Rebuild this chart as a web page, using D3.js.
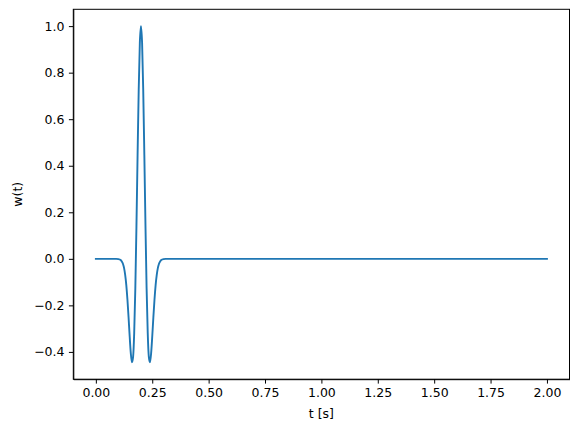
<!DOCTYPE html>
<html>
<head>
<meta charset="utf-8">
<script src="https://cdn.jsdelivr.net/npm/d3@7"></script>
<style>
    body { margin: 0; background: #fff; }
    svg text { font-family: "DejaVu Sans", sans-serif; }
    .tick text { font-size: 12.5px; fill: #000; }
    .tick line, .domain { stroke: #000; stroke-width: 1px; }
    .label { font-size: 12.5px; fill: #000; }
</style>
</head>
<body>
<svg id="chart"></svg>
<script>
// values (time in seconds, amplitude)
var tValues = [0, 0.09, 0.10, 0.11, 0.115, 0.12, 0.125, 0.13, 0.135, 0.14, 0.145, 0.15,
    0.155, 0.16, 0.165, 0.17, 0.175, 0.18, 0.185, 0.19, 0.195, 0.20,
    0.205, 0.21, 0.215, 0.22, 0.225, 0.23, 0.235, 0.24, 0.245, 0.25,
    0.255, 0.26, 0.265, 0.27, 0.275, 0.28, 0.285, 0.29, 0.30, 0.31, 2.0];
var wValues = [0, 0, -0.001, -0.005, -0.011, -0.021, -0.039, -0.069, -0.113, -0.175, -0.251, -0.334,
    -0.406, -0.445, -0.423, -0.319, -0.126, 0.142, 0.445, 0.727, 0.928, 1.0,
    0.928, 0.727, 0.445, 0.142, -0.126, -0.319, -0.423, -0.445, -0.406, -0.334,
    -0.251, -0.175, -0.113, -0.069, -0.039, -0.021, -0.011, -0.005, -0.001, 0, 0];
var xTicks = [0, 0.25, 0.5, 0.75, 1.0, 1.25, 1.5, 1.75, 2.0];
var yTicks = [-0.4, -0.2, 0.0, 0.2, 0.4, 0.6, 0.8, 1.0];

var margin = { top: 9.3, right: 8.5, bottom: 52.8, left: 73.3 };
var width = 578 - margin.left - margin.right;
var height = 432 - margin.top - margin.bottom;

var svg = d3.select('#chart')
    .attr('width', 578)
    .attr('height', 432)
    .append('g')
    .attr('transform', `translate(${margin.left}, ${margin.top})`);

var data = tValues.map((t, i) => ({ t: t, w: wValues[i] }));

// matplotlib style 5% padding around the data
var xMin = d3.min(tValues), xMax = d3.max(tValues);
var yMin = d3.min(wValues), yMax = d3.max(wValues);
var xPad = (xMax - xMin) * 0.05, yPad = (yMax - yMin) * 0.05;

var xScale = d3.scaleLinear()
    .range([0, width])
    .domain([xMin - xPad, xMax + xPad]);
var yScale = d3.scaleLinear()
    .range([height, 0])
    .domain([yMin - yPad, yMax + yPad]);

// X Axis
svg.append('g')
    .attr('transform', `translate(0, ${height})`)
    .call(d3.axisBottom(xScale).tickValues(xTicks).tickFormat(d3.format('.2f'))
        .tickSize(4.4).tickPadding(4.4).tickSizeOuter(0));

// Y Axis
svg.append('g')
    .call(d3.axisLeft(yScale).tickValues(yTicks).tickFormat(d => d3.format('.1f')(d).replace('-', '\u2212'))
        .tickSize(4.4).tickPadding(4.4).tickSizeOuter(0));

// frame
svg.append('rect')
    .attr('width', width)
    .attr('height', height)
    .attr('fill', 'none')
    .attr('stroke', '#000')
    .attr('stroke-width', 1);

var line = d3.line()
    .x(d => xScale(d.t))
    .y(d => yScale(d.w))
    .curve(d3.curveMonotoneX);

svg.append('path')
    .attr('d', line(data))
    .attr('fill', 'none')
    .attr('stroke', '#1f77b4')
    .attr('stroke-width', 1.9)
    .attr('stroke-linejoin', 'round')
    .attr('stroke-linecap', 'square');

// Labels
svg.append('text')
    .classed('label', true)
    .attr('x', width / 2)
    .attr('y', height + 39)
    .style('text-anchor', 'middle')
    .text('t [s]');

svg.append('text')
    .classed('label', true)
    .attr('transform', 'rotate(-90)')
    .attr('x', -height / 2)
    .attr('y', -51)
    .style('text-anchor', 'middle')
    .text('w(t)');
</script>
</body>
</html>
